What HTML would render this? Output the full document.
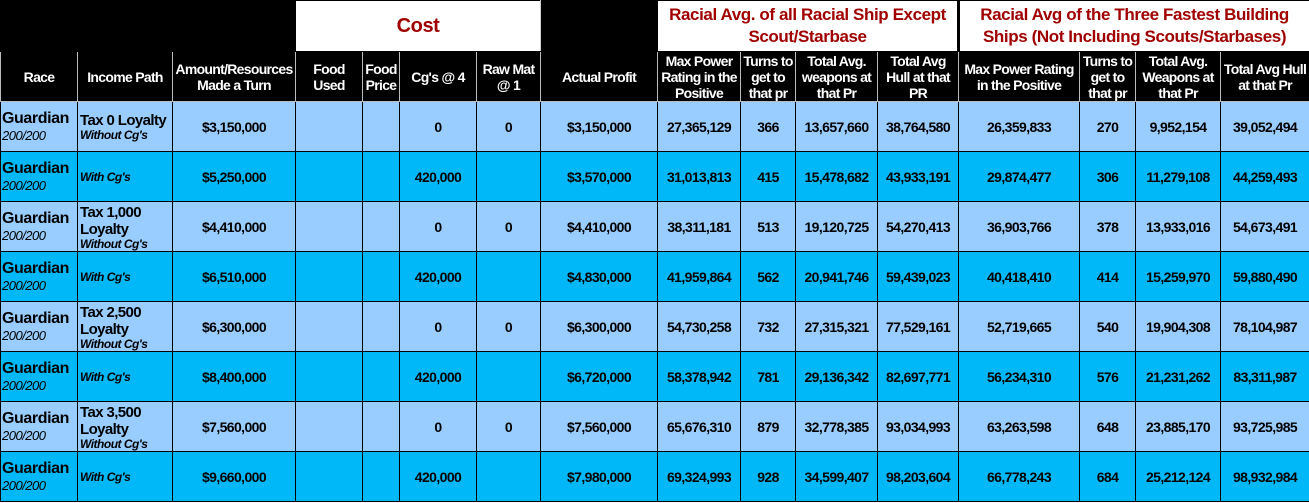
<!DOCTYPE html>
<html><head><meta charset="utf-8"><style>
body{margin:0;background:#fff;width:1309px;height:503px;overflow:hidden;font-family:"Liberation Sans",Arial,sans-serif}
table{border-collapse:collapse;table-layout:fixed;width:1309px}
td{border:1px solid #000;padding:0;text-align:center;vertical-align:middle;font-weight:bold;font-size:14px;overflow:hidden;letter-spacing:-0.6px;line-height:16px}
tr.h1 td{height:50px;background:#000}
tr.h1 td.w{background:#fff;color:#a00000;font-size:17px;line-height:22px;border-left:1px solid #ccc;border-right:1px solid #ccc;letter-spacing:-0.4px}
tr.h1 td.cost{font-size:20px}
tr.h2 td{height:49px;background:#000;color:#fff;border:1px solid #bbb;font-size:14px;line-height:16px;letter-spacing:-0.7px}
tr.d td{height:49px}
tr.a td{background:#99ccff}
tr.b td{background:#00b8f8}
td.race{text-align:left;padding-left:1px;font-size:16px;line-height:18px;letter-spacing:-0.4px}
td.race i{font-size:13px;font-weight:normal;display:block;line-height:15px;letter-spacing:-0.5px}
td.inc{text-align:left;padding-left:2px;font-size:15px;line-height:17px;letter-spacing:-0.6px}
td.inc i{font-size:12px;line-height:12px;display:block;letter-spacing:-0.5px}
</style></head><body>
<table>
<colgroup><col style="width:77px"><col style="width:95px"><col style="width:123px"><col style="width:67px"><col style="width:37px"><col style="width:77px"><col style="width:64px"><col style="width:117px"><col style="width:83px"><col style="width:55px"><col style="width:82px"><col style="width:81px"><col style="width:121px"><col style="width:56px"><col style="width:85px"><col style="width:89px"></colgroup>
<tr class="h1"><td></td><td></td><td></td><td class="w cost" colspan="4">Cost</td><td></td><td class="w" colspan="4">Racial Avg. of all Racial Ship Except Scout/Starbase</td><td class="w" colspan="4" style="border-left:3px solid #000">Racial Avg of the Three Fastest Building Ships (Not Including Scouts/Starbases)</td></tr>
<tr class="h2"><td>Race</td><td>Income Path</td><td>Amount/Resources Made a Turn</td><td>Food<br>Used</td><td>Food Price</td><td>Cg's @ 4</td><td>Raw Mat @ 1</td><td>Actual Profit</td><td>Max Power Rating in the Positive</td><td>Turns to get to that pr</td><td>Total Avg. weapons at that Pr</td><td>Total Avg Hull at that PR</td><td>Max Power Rating in the Positive</td><td>Turns to get to that pr</td><td>Total Avg. Weapons at that Pr</td><td>Total Avg Hull at that Pr</td></tr>
<tr class="d a"><td class="race">Guardian<i>200/200</i></td><td class="inc">Tax 0 Loyalty<i>Without Cg's</i></td><td>$3,150,000</td><td></td><td></td><td>0</td><td>0</td><td>$3,150,000</td><td>27,365,129</td><td>366</td><td>13,657,660</td><td>38,764,580</td><td>26,359,833</td><td>270</td><td>9,952,154</td><td>39,052,494</td></tr>
<tr class="d b"><td class="race">Guardian<i>200/200</i></td><td class="inc"><i>With Cg's</i></td><td>$5,250,000</td><td></td><td></td><td>420,000</td><td></td><td>$3,570,000</td><td>31,013,813</td><td>415</td><td>15,478,682</td><td>43,933,191</td><td>29,874,477</td><td>306</td><td>11,279,108</td><td>44,259,493</td></tr>
<tr class="d a"><td class="race">Guardian<i>200/200</i></td><td class="inc">Tax 1,000 Loyalty<i>Without Cg's</i></td><td>$4,410,000</td><td></td><td></td><td>0</td><td>0</td><td>$4,410,000</td><td>38,311,181</td><td>513</td><td>19,120,725</td><td>54,270,413</td><td>36,903,766</td><td>378</td><td>13,933,016</td><td>54,673,491</td></tr>
<tr class="d b"><td class="race">Guardian<i>200/200</i></td><td class="inc"><i>With Cg's</i></td><td>$6,510,000</td><td></td><td></td><td>420,000</td><td></td><td>$4,830,000</td><td>41,959,864</td><td>562</td><td>20,941,746</td><td>59,439,023</td><td>40,418,410</td><td>414</td><td>15,259,970</td><td>59,880,490</td></tr>
<tr class="d a"><td class="race">Guardian<i>200/200</i></td><td class="inc">Tax 2,500 Loyalty<i>Without Cg's</i></td><td>$6,300,000</td><td></td><td></td><td>0</td><td>0</td><td>$6,300,000</td><td>54,730,258</td><td>732</td><td>27,315,321</td><td>77,529,161</td><td>52,719,665</td><td>540</td><td>19,904,308</td><td>78,104,987</td></tr>
<tr class="d b"><td class="race">Guardian<i>200/200</i></td><td class="inc"><i>With Cg's</i></td><td>$8,400,000</td><td></td><td></td><td>420,000</td><td></td><td>$6,720,000</td><td>58,378,942</td><td>781</td><td>29,136,342</td><td>82,697,771</td><td>56,234,310</td><td>576</td><td>21,231,262</td><td>83,311,987</td></tr>
<tr class="d a"><td class="race">Guardian<i>200/200</i></td><td class="inc">Tax 3,500 Loyalty<i>Without Cg's</i></td><td>$7,560,000</td><td></td><td></td><td>0</td><td>0</td><td>$7,560,000</td><td>65,676,310</td><td>879</td><td>32,778,385</td><td>93,034,993</td><td>63,263,598</td><td>648</td><td>23,885,170</td><td>93,725,985</td></tr>
<tr class="d b"><td class="race">Guardian<i>200/200</i></td><td class="inc"><i>With Cg's</i></td><td>$9,660,000</td><td></td><td></td><td>420,000</td><td></td><td>$7,980,000</td><td>69,324,993</td><td>928</td><td>34,599,407</td><td>98,203,604</td><td>66,778,243</td><td>684</td><td>25,212,124</td><td>98,932,984</td></tr>
</table>
</body></html>
